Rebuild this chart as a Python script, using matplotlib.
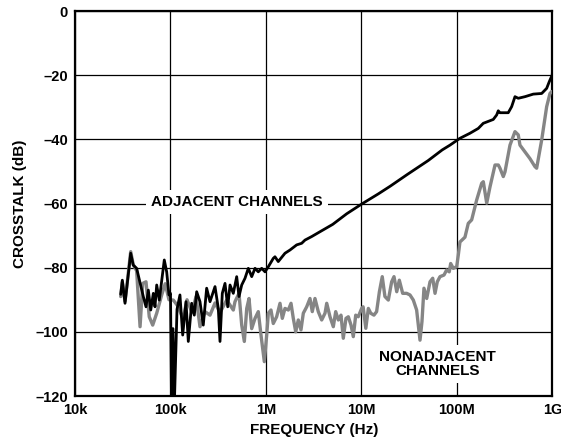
import matplotlib
matplotlib.use("Agg")
import matplotlib.pyplot as plt
import numpy as np

# adjacent channels (black)
adj_freq = [30.1e3, 31.3e3, 33.4e3, 34.8e3, 38.3e3, 40.7e3, 44.2e3, 51.9e3, 55.4e3, 58.6e3,
            62.1e3, 66.1e3, 68.8e3, 71.7e3, 76.3e3, 86.1e3, 91.2e3, 96.4e3, 100e3, 102.4e3,
            106.2e3, 110.1e3, 117e3, 125.6e3, 134.2e3, 145.3e3, 153.6e3, 166.7e3, 177.5e3, 188e3,
            203.6e3, 220.4e3, 239.1e3, 259.2e3, 292.5e3, 316.7e3, 329.9e3, 348.7e3, 372.2e3, 397.4e3,
            420.1e3, 454.6e3, 493.4e3, 521.6e3, 556.9e3, 602.9e3, 652.9e3, 708.5e3, 767.5e3, 830.5e3,
            901.6e3, 977e3, 1.058e6, 1.192e6, 1.242e6, 1.344e6, 1.581e6, 1.783e6, 2.095e6, 2.364e6,
            2.561e6, 3.01e6, 3.675e6, 5e6, 7e6, 10e6, 15e6, 20e6, 30e6, 50e6,
            70e6, 84.5e6, 107e6, 136.8e6, 167e6, 188.5e6, 239.9e6, 260.4e6, 270.6e6, 281.8e6,
            344.3e6, 373.8e6, 404.9e6, 438.3e6, 515.2e6, 629.5e6, 770.9e6, 869.5e6, 926.5e6, 995e6,
            1e9]
adj_db = [-88.3, -83.9, -91.1, -86.4, -75.5, -79.2, -80.2, -89.0, -92.2, -87.0,
          -93.2, -88.0, -92.2, -85.4, -90.1, -77.6, -81.3, -88.5, -88.0, -121,
          -99.0, -121, -93.0, -88.5, -101.0, -90.6, -103.0, -91.1, -94.8, -87.5,
          -90.6, -97.9, -86.4, -90.6, -85.9, -92.7, -103.0, -88.0, -84.9, -92.2,
          -85.4, -88.0, -82.8, -89.0, -85.4, -83.3, -80.2, -82.8, -80.2, -81.3,
          -80.2, -81.3, -79.7, -77.1, -76.6, -78.1, -75.5, -74.5, -72.9, -72.4,
          -71.4, -70.3, -68.8, -66.5, -63.2, -60.2, -57.0, -54.6, -51.0, -46.6,
          -43.3, -41.8, -39.7, -38.1, -36.6, -35.0, -33.8, -32.4, -31.1, -31.7,
          -31.7, -29.8, -26.7, -27.2, -26.7, -25.9, -25.7, -24.1, -22.0, -19.9,
          -18.6]

# nonadjacent channels (gray)
non_freq = [30.1e3, 31.3e3, 33.4e3, 34.8e3, 38.3e3, 40.7e3, 44.2e3, 48e3, 51.2e3, 55.4e3,
            59.9e3, 65.1e3, 71.7e3, 80.9e3, 88e3, 96.4e3, 107e3, 119.7e3, 135.3e3, 148.9e3,
            168e3, 185e3, 203.6e3, 229.7e3, 259.2e3, 292.5e3, 329.9e3, 387.5e3, 454.6e3, 473.5e3,
            521.6e3, 556.9e3, 593.2e3, 628.5e3, 664.2e3, 708.5e3, 767.5e3, 830.5e3, 886.5e3, 960.6e3,
            1.017e6, 1.058e6, 1.128e6, 1.192e6, 1.293e6, 1.402e6, 1.482e6, 1.581e6, 1.713e6, 1.828e6,
            1.932e6, 2.048e6, 2.179e6, 2.324e6, 2.459e6, 2.668e6, 2.888e6, 3.053e6, 3.258e6, 3.529e6,
            3.831e6, 4.15e6, 4.325e6, 4.68e6, 5.07e6, 5.37e6, 5.72e6, 6.1e6, 6.45e6, 6.88e6,
            7.28e6, 7.77e6, 8.21e6, 8.7e6, 9.25e6, 10.04e6, 10.4e6, 11.1e6, 11.8e6, 12.5e6,
            13.5e6, 14.4e6, 15.4e6, 16.5e6, 17.6e6, 19.1e6, 20.7e6, 21.9e6, 23.4e6, 24.9e6,
            27e6, 29.7e6, 32.2e6, 34.9e6, 37.8e6, 41e6, 43e6, 45.1e6, 48.2e6, 52.2e6,
            55.7e6, 58.9e6, 62.2e6, 66.4e6, 73.1e6, 78e6, 83e6, 85.9e6, 91.5e6, 99.3e6,
            103.3e6, 107.4e6, 121.2e6, 131.3e6, 142.5e6, 160.8e6, 181.4e6, 188.7e6, 204.8e6, 221.8e6,
            250.2e6, 271e6, 282e6, 305.5e6, 318.4e6, 359e6, 404.9e6, 438.3e6, 456.7e6, 515.2e6,
            581e6, 655.6e6, 682.6e6, 770.9e6, 869.5e6, 941.6e6, 981.3e6]
non_db = [-89.0, -84.5, -90.5, -86.0, -75.0, -79.0, -81.0, -98.4, -84.9, -84.4,
          -95.3, -97.9, -94.2, -88.5, -85.0, -90.0, -90.1, -92.0, -96.0, -90.0,
          -94.0, -89.0, -98.4, -93.7, -94.8, -91.0, -94.0, -90.1, -93.2, -90.6,
          -88.0, -97.9, -103.0, -92.7, -89.6, -99.0, -95.8, -93.7, -101.0, -109.3,
          -101.0, -94.2, -93.2, -97.4, -95.3, -91.1, -95.8, -92.7, -93.2, -91.1,
          -95.8, -100.0, -96.3, -99.4, -94.2, -92.2, -89.6, -93.7, -89.6, -93.7,
          -96.3, -94.2, -91.1, -95.3, -98.4, -93.7, -96.3, -94.8, -102.0, -95.8,
          -95.3, -97.9, -101.5, -94.8, -95.3, -92.7, -92.2, -98.9, -92.7, -94.2,
          -94.8, -93.7, -87.5, -82.8, -89.0, -90.1, -84.4, -82.8, -87.5, -83.9,
          -88.0, -88.0, -88.5, -90.1, -93.2, -102.6, -96.8, -86.4, -89.6, -84.4,
          -83.3, -88.0, -84.4, -82.8, -82.3, -80.7, -81.3, -78.7, -80.2, -79.7,
          -76.0, -72.0, -70.5, -66.2, -65.1, -58.9, -53.7, -53.2, -59.9, -54.8,
          -48.0, -48.0, -49.0, -51.6, -50.1, -41.8, -37.6, -38.6, -41.8, -43.9,
          -46.0, -48.5, -49.0, -40.2, -29.8, -25.7, -25.1]

x_ticks = [1e4, 1e5, 1e6, 1e7, 1e8, 1e9]
x_labels = ["10k", "100k", "1M", "10M", "100M", "1G"]
y_ticks = [0, -20, -40, -60, -80, -100, -120]
y_labels = ["0", "\u201320", "\u201340", "\u201360", "\u201380", "\u2013100", "\u2013120"]

plt.rcParams['font.family'] = ['Liberation Sans', 'DejaVu Sans']
plt.rcParams['font.weight'] = 'bold'

fig = plt.figure(figsize=(5.61, 4.46), dpi=100)
ax = fig.add_axes([0.1337, 0.1121, 0.8511, 0.8632])

ax.plot(non_freq, non_db, color='#858585', lw=2.4, zorder=3,
        solid_joinstyle='round', solid_capstyle='round')
ax.plot(adj_freq, adj_db, color='black', lw=2.0, zorder=4,
        solid_joinstyle='round', solid_capstyle='round')

ax.set_xscale('log')
ax.set_xlim(1e4, 1e9)
ax.set_ylim(-120, 0)
ax.set_xticks(x_ticks)
ax.set_xticklabels(x_labels)
ax.minorticks_off()
ax.set_yticks(y_ticks)
ax.set_yticklabels(y_labels)
ax.tick_params(length=0, labelsize=10.5, pad=5)
for lab in ax.get_xticklabels() + ax.get_yticklabels():
    lab.set_fontweight('bold')

ax.grid(True, color='black', lw=0.9)
ax.set_axisbelow(True)
for s in ax.spines.values():
    s.set_linewidth(1.6)

ax.set_xlabel("FREQUENCY (Hz)", fontsize=11, fontweight='bold', labelpad=4)
ax.set_ylabel("CROSSTALK (dB)", fontsize=11, fontweight='bold', labelpad=6)

box = dict(facecolor='white', edgecolor='none', boxstyle='square,pad=0.35')
ax.text(4.97e5, -59.5, "ADJACENT CHANNELS", ha='center', va='center',
        fontsize=11, fontweight='bold', bbox=box, zorder=5)
ax.text(6.3e7, -110, "NONADJACENT\nCHANNELS", ha='center', va='center',
        fontsize=11, fontweight='bold', linespacing=0.95, bbox=box, zorder=5)

fig.savefig("out.png", dpi=100)
